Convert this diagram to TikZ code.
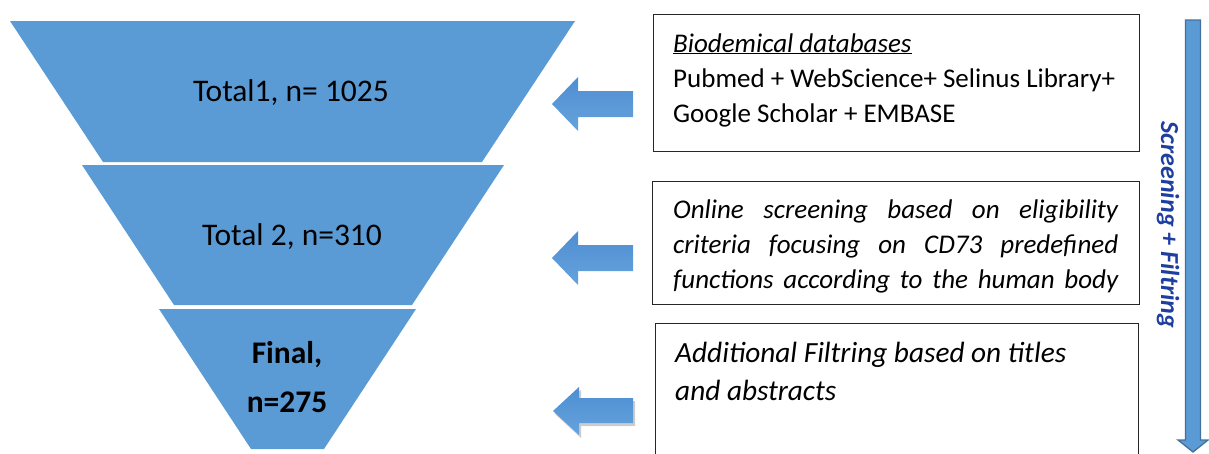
\documentclass[tikz,border=0pt]{standalone}
\usepackage{fontspec}
\setmainfont{Carlito}
\usetikzlibrary{shadows}

\definecolor{funnelblue}{HTML}{5B9BD5}
\definecolor{arrowtop}{HTML}{4E8DD2}
\definecolor{arrowbot}{HTML}{66A3DC}
\definecolor{arrowedge}{HTML}{41719C}
\definecolor{labelblue}{HTML}{1F3FA0}

\tikzset{
  funnel/.style={fill=funnelblue, draw=none},
  funneltext/.style={inner sep=0pt, anchor=base, font=\fontsize{31.5}{37}\selectfont},
  infobox/.style={draw=black!85, line width=0.9pt, fill=white},
  leftarrow/.style={top color=arrowtop, bottom color=arrowbot, draw=none},
  boxtext/.style={inner sep=0pt, anchor=base west},
}

\begin{document}
\begin{tikzpicture}[x=1pt, y=-1pt]
  \useasboundingbox (0,0) rectangle (1209,453);

  % funnel stages
  \fill[funnel] (10,21) -- (575,21) -- (482,162) -- (103,162) -- cycle;
  \fill[funnel] (82,165) -- (504,165) -- (412,305) -- (174,305) -- cycle;
  \fill[funnel] (159,309) -- (416,309) -- (324,449) -- (251,449) -- cycle;

  \node[funneltext] (s1) at (291,101) {Total1, n= 1025};
  \node[funneltext] (s2) at (292,245) {Total 2, n=310};
  \node[funneltext, font=\fontsize{31.5}{37}\selectfont\bfseries] (s3a) at (287,363) {Final,};
  \node[funneltext, font=\fontsize{31.5}{37}\selectfont\bfseries] (s3b) at (287,412) {n=275};

  % block arrows pointing at the funnel
  \path[leftarrow] (552,104) -- (578,77) -- (578,91) -- (633,91) -- (633,117)
    -- (578,117) -- (578,131) -- cycle;
  \path[leftarrow] (552,258) -- (578,231) -- (578,245) -- (633,245) -- (633,271)
    -- (578,271) -- (578,285) -- cycle;
  \path[leftarrow, drop shadow={shadow xshift=2pt, shadow yshift=-3pt, opacity=0.4}]
    (553,411) -- (579,387) -- (579,398) -- (633,398) -- (633,423)
    -- (579,423) -- (579,435) -- cycle;

  % description boxes
  \node[infobox, anchor=north west, minimum width=486pt, minimum height=137pt] (b1) at (653,14) {};
  \node[infobox, anchor=north west, minimum width=487pt, minimum height=123pt] (b2) at (652,181) {};
  \node[infobox, anchor=north west, minimum width=483pt, minimum height=160pt] (b3) at (655,323) {};

  \node[boxtext] (t1) at (673,52) {\parbox[t]{460pt}{\fontsize{27}{35}\selectfont
    \underline{\textit{Biodemical databases}}\\
    Pubmed + WebScience+ Selinus Library+\\
    Google Scholar + EMBASE}};

  \node[boxtext] (t2) at (673,218) {\parbox[t]{445pt}{\fontsize{27}{35}\selectfont\itshape
    \makebox[445pt][s]{Online screening based on eligibility}\\
    \makebox[445pt][s]{criteria focusing on CD73 predefined}\\
    \makebox[445pt][s]{functions according to the human body}}};

  \node[boxtext] (t3) at (675,362) {\parbox[t]{460pt}{\fontsize{29.3}{38}\selectfont\itshape
    Additional Filtring based on titles\\
    and abstracts}};

  % overall direction arrow
  \coordinate (vtop) at (1193,20);
  \coordinate (vtip) at (1193,452);
  \draw[fill=funnelblue, draw=arrowedge, line width=1.3pt, line join=miter]
    (1185.5,20) -- (1200.5,20) -- (1200.5,440) -- (1208,440) -- (vtip)
    -- (1178,440) -- (1185.5,440) -- cycle;

  \node[rotate=-90, inner sep=0pt, text=labelblue,
        font=\fontsize{26}{30}\selectfont\bfseries\itshape] (lbl) at (1168,225)
    {Screening + Filtring};
\end{tikzpicture}
\end{document}
